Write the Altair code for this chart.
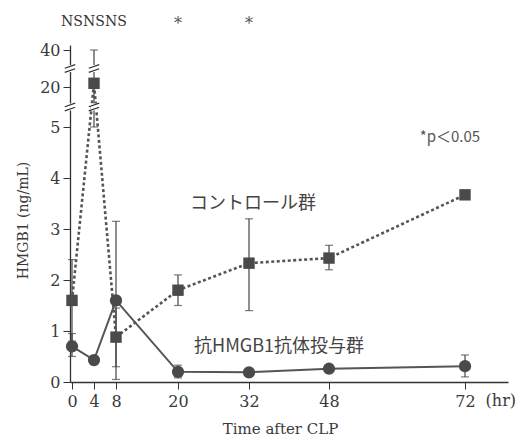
import altair as alt
import pandas as pd

# ---- data ----
hours = [0, 4, 8, 20, 32, 48, 72]
ctrl_mean = [1.6, 22.0, 0.88, 1.8, 2.33, 2.43, 3.67]
ctrl_lo = [0.8, 5.0, 0.3, 1.5, 1.4, 2.2, 3.67]
ctrl_hi = [2.4, 40.0, 1.45, 2.1, 3.2, 2.68, 3.67]
anti_mean = [0.7, 0.43, 1.6, 0.2, 0.19, 0.26, 0.31]
anti_lo = [0.5, 0.35, 0.05, 0.08, 0.15, 0.2, 0.1]
anti_hi = [0.95, 0.5, 3.15, 0.33, 0.24, 0.33, 0.53]
sig_labels = ["NS", "NS", "NS", "*", "*", "", ""]
break_vals = [12.5, 30.0]
x_ticks = [0, 4, 8, 20, 32, 48, 72]
y_ticks = [0, 1, 2, 3, 4, 5, 20, 40]

# piecewise (broken) scales, as drawn in the figure
x_dom = [-0.1, 0, 4, 8, 20, 32, 48, 72, 75]
x_rng = [0, 2, 24, 46, 108, 179, 259, 395, 438]
y_dom = [0, 5, 20, 40, 41]
y_rng = [342, 87, 47, 10, 5]

ctrl = pd.DataFrame({"h": hours, "m": ctrl_mean, "lo": ctrl_lo, "hi": ctrl_hi})
anti = pd.DataFrame({"h": hours, "m": anti_mean, "lo": anti_lo, "hi": anti_hi})
sig = pd.DataFrame({"h": hours, "t": sig_labels})
sig = sig[sig.t != ""]
brk = pd.DataFrame({"h": [-0.1, -0.1, 4, 4], "v": break_vals + break_vals})

DARK = "#4a4a4a"
SERIF = "DejaVu Serif"
CJK = "Noto Sans CJK JP"

xs = alt.Scale(domain=x_dom, range=x_rng)
ys = alt.Scale(domain=y_dom, range=y_rng)

X = alt.X("h:Q", scale=xs, axis=alt.Axis(
    values=x_ticks, title="Time after CLP", grid=False, tickSize=7,
    labelPadding=4, labelFont=SERIF, labelFontSize=16, labelColor="#3a3a3a",
    titleFont=SERIF, titleFontSize=15, titleFontWeight="normal", titleColor="#3a3a3a",
    titleX=210, titleY=46, titleBaseline="middle",
    domainColor="#333", tickColor="#333", domainWidth=1.3, labelFlush=False,
    labelOverlap=False))
Y = alt.Y("m:Q", scale=ys, axis=alt.Axis(
    values=y_ticks, title="HMGB1 (ng/mL)", grid=False, tickSize=7,
    labelPadding=3, labelFont=SERIF, labelFontSize=16, labelColor="#3a3a3a",
    titleFont=SERIF, titleFontSize=14, titleFontWeight="normal", titleColor="#3a3a3a",
    titleX=-47, titleY=180, titleAlign="center", titleBaseline="middle",
    domainColor="#333", tickColor="#333", domainWidth=1.3, labelOverlap=False,
    labelFlush=False))

def err_layers(df):
    base = alt.Chart(df)
    rule = base.mark_rule(color="#444", strokeWidth=1.2).encode(
        x=alt.X("h:Q", scale=xs), y=alt.Y("lo:Q", scale=ys), y2="hi:Q")
    cap_hi = base.mark_tick(orient="horizontal", size=8, thickness=1.2, color="#444").encode(
        x=alt.X("h:Q", scale=xs), y=alt.Y("hi:Q", scale=ys))
    cap_lo = base.mark_tick(orient="horizontal", size=8, thickness=1.2, color="#444").encode(
        x=alt.X("h:Q", scale=xs), y=alt.Y("lo:Q", scale=ys))
    return [rule, cap_hi, cap_lo]

ctrl_line = alt.Chart(ctrl).mark_line(color="#555", strokeWidth=2.6, strokeDash=[3, 2.5]).encode(x=X, y=Y)
ctrl_pts = alt.Chart(ctrl).mark_point(shape="square", filled=True, size=130, color=DARK, opacity=1).encode(x=X, y=Y)
anti_line = alt.Chart(anti).mark_line(color="#555", strokeWidth=2).encode(x=X, y=Y)
anti_pts = alt.Chart(anti).mark_point(shape="circle", filled=True, size=150, color=DARK, opacity=1).encode(x=X, y=Y)

brk_gap = alt.Chart(brk).mark_point(shape="square", filled=True, size=50, color="white", opacity=1).encode(
    x=alt.X("h:Q", scale=xs), y=alt.Y("v:Q", scale=ys))
brk_marks = alt.Chart(brk).mark_point(
    shape="M -1 -0.05 L 1 -0.75 M -1 0.75 L 1 0.05", filled=False, size=110,
    color="#333", strokeWidth=1.2, opacity=1).encode(
    x=alt.X("h:Q", scale=xs), y=alt.Y("v:Q", scale=ys))

ns_text = alt.Chart(sig[sig.t == "NS"]).mark_text(font=SERIF, fontSize=14, color="#333").encode(
    x=alt.X("h:Q", scale=xs), y=alt.value(-18), text="t:N")
star_text = alt.Chart(sig[sig.t == "*"]).mark_text(font=SERIF, fontSize=16, color="#555").encode(
    x=alt.X("h:Q", scale=xs), y=alt.value(-16), text="t:N")

ann = pd.DataFrame({
    "h": [64.0, 32.8, 38.0],
    "v": [4.8, 3.5, 0.68],
    "t": ["*p\uff1c0.05", "コントロール群", "抗HMGB1抗体投与群"],
})
p_text = alt.Chart(ann.iloc[[0]]).mark_text(font=CJK, fontSize=15, color="#555", align="left").encode(
    x=alt.X("h:Q", scale=xs), y=alt.Y("v:Q", scale=ys), text="t:N")
lbl_text = alt.Chart(ann.iloc[[1, 2]]).mark_text(font=CJK, fontSize=18, color="#444").encode(
    x=alt.X("h:Q", scale=xs), y=alt.Y("v:Q", scale=ys), text="t:N")
hr_text = alt.Chart(pd.DataFrame({"h": [74.5], "t": ["(hr)"]})).mark_text(
    font=SERIF, fontSize=16, color="#3a3a3a").encode(
    x=alt.X("h:Q", scale=xs), y=alt.value(361), text="t:N")

layers = (err_layers(ctrl) + err_layers(anti) +
          [ctrl_line, anti_line, ctrl_pts, anti_pts, brk_gap, brk_marks,
           ns_text, star_text, p_text, lbl_text, hr_text])

chart = alt.layer(*layers).properties(
    width=438, height=342,
    autosize=alt.AutoSizeParams(type="none"),
    padding={"left": 70, "top": 40, "right": 11, "bottom": 54},
    background="white",
).configure_view(strokeWidth=0)

chart.save("out.html", embed_options={"renderer": "svg", "actions": False})
